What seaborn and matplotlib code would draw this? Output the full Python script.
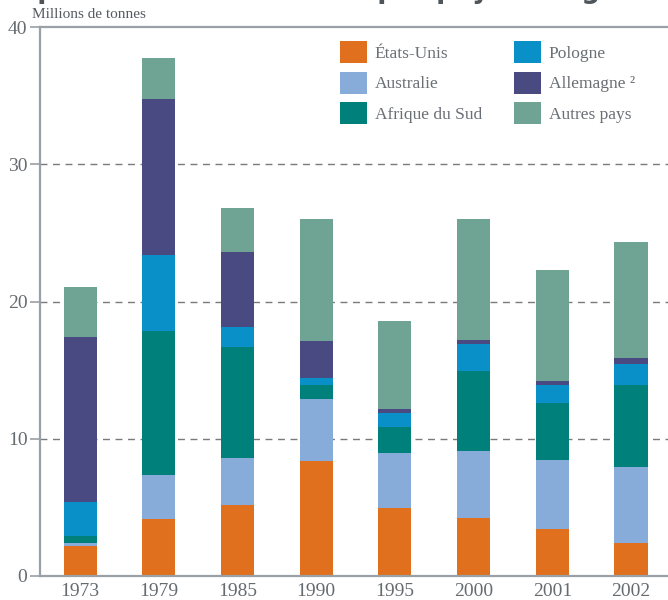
import matplotlib
matplotlib.use("Agg")
import matplotlib.pyplot as plt
import seaborn as sns
import numpy as np
import pandas as pd
from matplotlib.patches import Patch

years = ["1973", "1979", "1985", "1990", "1995", "2000", "2001", "2002"]
series_names = ["États-Unis", "Australie", "Afrique du Sud", "Pologne", "Allemagne ²", "Autres pays"]
etats_unis = [2.18, 4.14, 5.16, 8.39, 4.94, 4.21, 3.41, 2.38]
australie = [0.25, 3.22, 3.44, 4.47, 4.03, 4.91, 5.05, 5.57]
afrique_sud = [0.50, 10.50, 8.07, 1.02, 1.91, 5.78, 4.18, 5.93]
pologne = [2.47, 5.50, 1.46, 0.52, 1.02, 2.00, 1.24, 1.54]
allemagne = [12.00, 11.40, 5.50, 2.70, 0.30, 0.28, 0.30, 0.44]
autres = [3.65, 3.00, 3.20, 8.90, 6.37, 8.82, 8.12, 8.44]
colors = ["#E0701E", "#88ACDA", "#00807A", "#0A90C8", "#4A4A82", "#6FA394"]
yticks = [0, 10, 20, 30, 40]

sns.set_theme(style="white")
plt.rcParams["font.family"] = ["Liberation Serif", "DejaVu Serif"]

series = [etats_unis, australie, afrique_sud, pologne, allemagne, autres]
cum = np.cumsum(np.array(series), axis=0)

fig = plt.figure(figsize=(6.68, 6.0), dpi=100)
ax = fig.add_axes([40 / 668, 24 / 600, 1 - 40 / 668, (576 - 27) / 600])

for i in range(len(series) - 1, -1, -1):
    df = pd.DataFrame({"year": years, "value": cum[i]})
    sns.barplot(data=df, x="year", y="value", color=colors[i], width=0.42,
                saturation=1, ax=ax, linewidth=0, edgecolor="none")

ax.set_xlim(-0.51, 7.47)
ax.set_ylim(0, 40)
ax.set_yticks(yticks)
ax.set_xlabel("")
ax.set_ylabel("")
for y in [10, 20, 30]:
    ax.axhline(y, color="#7A7A7A", linestyle=(0, (5, 4)), linewidth=1.0, zorder=0.5)

spine_c = "#9AA0A6"
for s in ["left", "bottom", "top"]:
    ax.spines[s].set_visible(True)
    ax.spines[s].set_color(spine_c)
    ax.spines[s].set_linewidth(1.6)
ax.spines["right"].set_visible(False)
ax.tick_params(axis="y", length=7, width=1.2, color=spine_c, labelsize=14, labelcolor="#666B70", pad=2, left=True)
ax.tick_params(axis="x", length=0, labelsize=14, labelcolor="#666B70", pad=5)

handles = [Patch(facecolor=c, edgecolor="none") for c in colors]
leg = ax.legend(handles, series_names, ncol=2, loc="upper left",
                bbox_to_anchor=(0.455, 1.0), frameon=False, fontsize=12.5,
                handlelength=1.55, handleheight=1.57, handletextpad=0.46,
                columnspacing=1.85, labelspacing=0.5, borderpad=0.3)
for t in leg.get_texts():
    t.set_color("#6A6F75")

fig.text(32 / 668, 1 - 14 / 600, "Millions de tonnes", fontsize=11, color="#555A60",
         va="center", ha="left")
fig.text(0.0, 1 + 2 / 600, "Importations de charbon par pays d'origine", fontsize=19,
         fontweight="bold", color="#50555A", va="baseline", ha="left", family=["DejaVu Sans"])

fig.savefig("out.png", dpi=100)
